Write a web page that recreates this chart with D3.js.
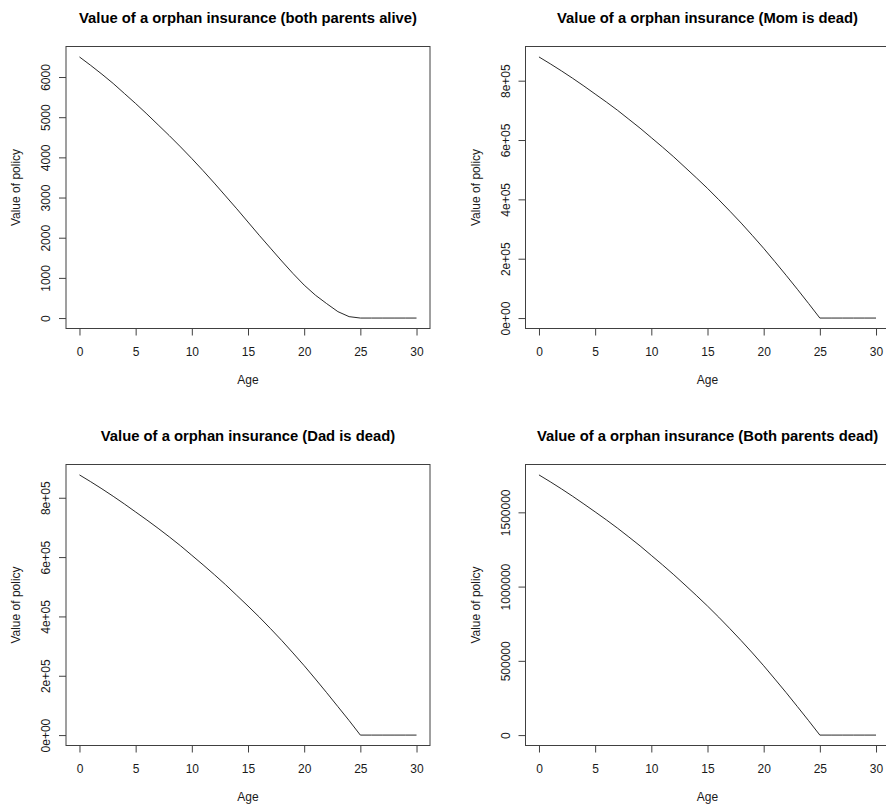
<!DOCTYPE html>
<html>
<head>
<meta charset="utf-8">
<script src="https://cdn.jsdelivr.net/npm/d3@7"></script>
<style>
  html, body { margin: 0; padding: 0; background: #fff; }
  svg { display: block; }
  text { font-family: "Liberation Sans", Arial, Helvetica, sans-serif; }
</style>
</head>
<body>
<script>
// ---------------- data ----------------
const ages = [0,1,2,3,4,5,6,7,8,9,10,11,12,13,14,15,16,17,18,19,20,21,22,23,24,25,26,27,28,29,30];

const bothAlive = [6500,6290,6070,5840,5590,5340,5080,4810,4540,4260,3970,3670,3360,3040,2720,2390,2060,1740,1420,1110,820,570,360,160,35,0,0,0,0,0,0];
const momDead = [880000,857000,833000,808000,782000,755000,728000,700000,670000,640000,608000,576000,543000,508000,473000,437000,399000,360000,320000,278000,235000,190000,144000,97000,49000,0,0,0,0,0,0];
const dadDead = [877000,854000,830000,805000,779000,752000,725000,697000,668000,638000,606000,574000,541000,507000,471000,435000,398000,359000,319000,277000,234000,189000,143000,96000,49000,0,0,0,0,0,0];
const bothDead = [1752000,1706000,1658000,1608000,1556000,1503000,1449000,1393000,1334000,1274000,1210000,1146000,1080000,1011000,941000,869000,794000,716000,636000,553000,467000,377000,286000,192000,97000,0,0,0,0,0,0];

const titles = [
  "Value of a orphan insurance (both parents alive)",
  "Value of a orphan insurance (Mom is dead)",
  "Value of a orphan insurance (Dad is dead)",
  "Value of a orphan insurance (Both parents dead)"
];
const xTicks = [0,5,10,15,20,25,30];
const yTicksAlive = [0,1000,2000,3000,4000,5000,6000];
const yTicksSingle = [0,200000,400000,600000,800000];
const yTicksBoth = [0,500000,1000000,1500000];
const xLabel = "Age";
const yLabel = "Value of policy";

// ---------------- helpers ----------------
function sciFmt(v) {
  if (v === 0) return "0e+00";
  const e = Math.floor(Math.log10(Math.abs(v)));
  const m = Math.round(v / Math.pow(10, e));
  return m + "e" + (e >= 0 ? "+" : "-") + String(Math.abs(e)).padStart(2, "0");
}
const plainFmt = d => String(d);

const W = 886, H = 809;
const svg = d3.select("body").append("svg").attr("width", W).attr("height", H);

const panels = [
  { values: bothAlive, title: titles[0], ticks: yTicksAlive, fmt: plainFmt, box: { l: 66, r: 430, t: 46.5, b: 328.5 } },
  { values: momDead,   title: titles[1], ticks: yTicksSingle, fmt: sciFmt,  box: { l: 525.5, r: 889.5, t: 46.5, b: 328.5 } },
  { values: dadDead,   title: titles[2], ticks: yTicksSingle, fmt: sciFmt,  box: { l: 66, r: 430, t: 464.5, b: 745.5 } },
  { values: bothDead,  title: titles[3], ticks: yTicksBoth,  fmt: plainFmt, box: { l: 525.5, r: 889.5, t: 464.5, b: 745.5 } }
];

const ink = "#1a1a1a";
const boxInk = "#404040";

panels.forEach(p => {
  const { l, r, t, b } = p.box;
  const g = svg.append("g");

  const x = d3.scaleLinear().domain([-1.2, 31.2]).range([l, r]);
  const [mn, mx] = d3.extent(p.values);
  const pad = (mx - mn) * 0.04;
  const y = d3.scaleLinear().domain([mn - pad, mx + pad]).range([b, t]);

  // box
  g.append("rect")
    .attr("x", l).attr("y", t).attr("width", r - l).attr("height", b - t)
    .attr("fill", "none").attr("stroke", boxInk).attr("stroke-width", 1);

  // x axis
  const xa = g.append("g").attr("transform", `translate(0,${b})`)
    .call(d3.axisBottom(x).tickValues(xTicks).tickSize(7).tickSizeOuter(0).tickFormat(plainFmt));
  xa.select(".domain").remove();
  xa.selectAll(".tick line").attr("stroke", boxInk);
  xa.selectAll(".tick text")
    .attr("y", 27).attr("dy", 0)
    .attr("fill", ink).style("font-size", "12px")
    .style("font-family", "'Liberation Sans', Arial, sans-serif");

  // y axis
  const ya = g.append("g").attr("transform", `translate(${l},0)`)
    .call(d3.axisLeft(y).tickValues(p.ticks).tickSize(7).tickSizeOuter(0).tickFormat(p.fmt));
  ya.select(".domain").remove();
  ya.selectAll(".tick line").attr("stroke", boxInk);
  ya.selectAll(".tick text")
    .attr("x", 0).attr("y", -16).attr("dy", 0)
    .attr("transform", "rotate(-90)")
    .attr("text-anchor", "middle")
    .attr("fill", ink).style("font-size", "12px")
    .style("font-family", "'Liberation Sans', Arial, sans-serif");

  // curve
  const line = d3.line().x((d, i) => x(ages[i])).y(d => y(d));
  g.append("path")
    .datum(p.values)
    .attr("d", line)
    .attr("fill", "none")
    .attr("stroke", "#111")
    .attr("stroke-width", 0.9);

  const cx = (l + r) / 2, cy = (t + b) / 2;

  // title
  g.append("text")
    .attr("x", cx).attr("y", t - 23.5)
    .attr("text-anchor", "middle")
    .style("font-size", "14.8px").style("font-weight", "bold")
    .attr("fill", "#000")
    .text(p.title);

  // axis titles
  g.append("text")
    .attr("x", cx).attr("y", b + 55)
    .attr("text-anchor", "middle")
    .style("font-size", "12px").attr("fill", ink)
    .text(xLabel);

  g.append("text")
    .attr("transform", `translate(${l - 46},${cy}) rotate(-90)`)
    .attr("text-anchor", "middle")
    .style("font-size", "12px").attr("fill", ink)
    .text(yLabel);
});
</script>
</body>
</html>
